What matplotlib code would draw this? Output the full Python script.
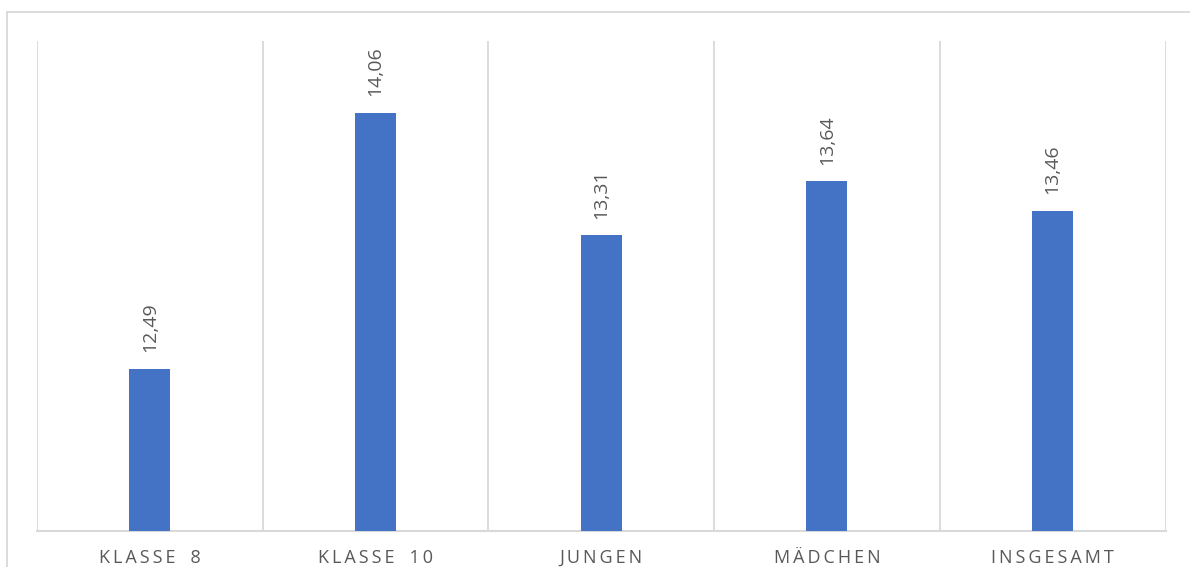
import numpy as np
import matplotlib
matplotlib.use("Agg")
from matplotlib import pyplot as plt
from matplotlib.lines import Line2D

categories = ["KLASSE 8", "KLASSE 10", "JUNGEN", "MÄDCHEN", "INSGESAMT"]
values = [12.49, 14.06, 13.31, 13.64, 13.46]
value_labels = ["12,49", "14,06", "13,31", "13,64", "13,46"]

plt.rcParams['font.family'] = ['Open Sans', 'DejaVu Sans']

W, H = 1190, 567
fig = plt.figure(figsize=(W / 100, H / 100), dpi=100)
ax = fig.add_axes([37 / W, (H - 530.5) / H, (1165.5 - 37) / W, (530.5 - 41) / H])

grid_col = "#D9D9D9"
text_col = "#595959"

x = np.arange(len(categories))
ax.bar(x, values, width=0.182, color="#4472C4", zorder=3)

ax.set_xlim(-0.5, len(categories) - 0.5)
ax.set_ylim(11.5, 14.5)

# category separators
for b in np.arange(-0.5, len(categories), 1.0):
    ax.axvline(b, color=grid_col, lw=1.3, zorder=1)

for s in ["top", "right", "left"]:
    ax.spines[s].set_visible(False)
ax.spines["bottom"].set_color(grid_col)
ax.spines["bottom"].set_linewidth(1.5)

def spaced(txt):
    # excel style letter spacing, thin space between letters
    return "\u2009".join(txt.replace(" ", "\u2009\u2009"))

ax.set_xticks(x)
ax.set_xticklabels([spaced(c) for c in categories], fontsize=13, color=text_col)
ax.tick_params(axis="x", length=0, pad=13.5)
ax.set_yticks([])

for xi, v, lab in zip(x, values, value_labels):
    ax.annotate(lab, (xi, v), xytext=(0, 12), textcoords="offset points",
                rotation=90, ha="center", va="bottom", fontsize=14, color=text_col)

# outer chart frame (partly cut off)
fig.add_artist(Line2D([7 / W, 7 / W], [0, (H - 12) / H], color=grid_col, lw=1.3,
                      transform=fig.transFigure))
fig.add_artist(Line2D([7 / W, 1], [(H - 12) / H, (H - 12) / H], color=grid_col, lw=1.3,
                      transform=fig.transFigure))

fig.savefig("out.png", dpi=100)
